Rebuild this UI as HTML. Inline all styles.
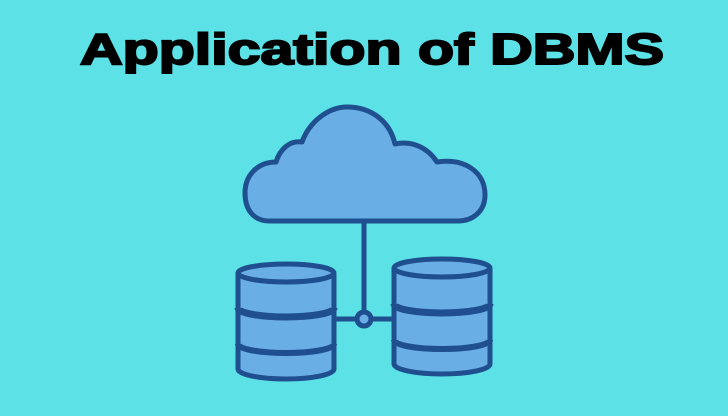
<!DOCTYPE html>
<html><head><style>html,body{margin:0;padding:0;background:#5ce1e6;}svg{display:block}</style></head>
<body>
<svg width="728" height="416" viewBox="0 0 728 416" xmlns="http://www.w3.org/2000/svg">
<rect width="728" height="416" fill="#5ce1e6"/>
<text x="80" y="64" font-family="Liberation Sans, sans-serif" font-weight="bold" font-size="44" fill="#000" stroke="#000" stroke-width="2" textLength="584" lengthAdjust="spacingAndGlyphs">Application of DBMS</text>
<g stroke="#1f4f8f" stroke-width="5" fill="#6aaee6" stroke-linejoin="round">
<path d="M270,221 C252,221 245,208 245,193 C245,175 258,162 276,162 C280,149 290,140 302,142 C310,120 330,107 347,107 C372,107 390,122 395,144 C412,140 428,148 437,162 C465,158 485,172 485,195 C485,212 472,221 458,221 Z"/>
<line x1="364" y1="221" x2="364" y2="312" fill="none"/>
<line x1="335" y1="319" x2="393" y2="319" fill="none"/>
<circle cx="364" cy="319" r="7"/>
<path d="M238,273 L238,369 A48,10 0 0 0 334,369 L334,273"/>
<ellipse cx="286" cy="273" rx="48" ry="9"/>
<path d="M238,308 A48,9 0 0 0 334,308" fill="none" stroke-width="7"/>
<path d="M238,344 A48,9 0 0 0 334,344" fill="none" stroke-width="6"/>
<path d="M394,268 L394,364 A48,10 0 0 0 490,364 L490,268"/>
<ellipse cx="442" cy="268" rx="48" ry="9"/>
<path d="M394,304 A48,9 0 0 0 490,304" fill="none" stroke-width="7"/>
<path d="M394,340 A48,9 0 0 0 490,340" fill="none" stroke-width="6"/>
</g>
</svg>
</body></html>
